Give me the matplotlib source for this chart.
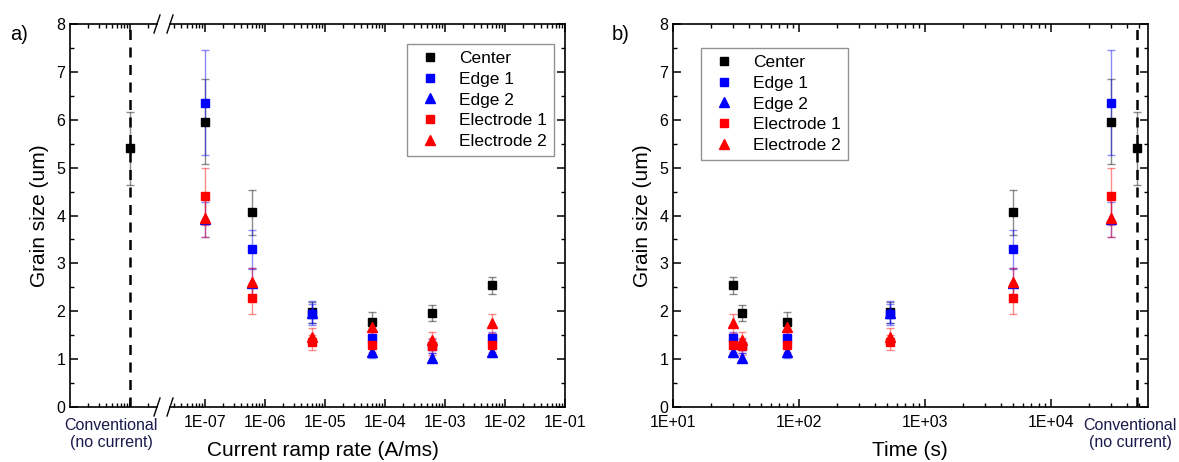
import matplotlib
matplotlib.use("Agg")
import matplotlib.pyplot as plt
from matplotlib.ticker import FixedLocator, LogLocator, NullFormatter, FixedFormatter, MultipleLocator
from matplotlib.lines import Line2D

plt.rcParams['font.family'] = ['Liberation Sans', 'DejaVu Sans']

# ---------------- data ----------------
ramp_rate = [1e-7, 6e-7, 6e-6, 6e-5, 6e-4, 6e-3]          # A/ms
time_s = [30000, 5000, 525, 80, 35, 30]                   # s
conv_rate_pos = 1.0        # position of "Conventional" on the short left axis segment
conv_time_pos = 4.8e4      # position of "Conventional" on the time axis
conv_center = [5.40]
conv_center_err = [0.76]

center = [5.96, 4.07, 1.98, 1.78, 1.97, 2.54]
center_err = [0.89, 0.47, 0.22, 0.20, 0.17, 0.17]
edge1 = [6.36, 3.29, 1.95, 1.45, 1.28, 1.45]
edge1_err = [1.09, 0.40, 0.20, 0.15, 0.15, 0.12]
edge2 = [3.92, 2.60, 1.97, 1.15, 1.03, 1.15]
edge2_err = [0.37, 0.30, 0.25, 0.13, 0.10, 0.10]
electrode1 = [4.40, 2.27, 1.35, 1.30, 1.27, 1.30]
electrode1_err = [0.60, 0.33, 0.15, 0.15, 0.18, 0.15]
electrode2 = [3.94, 2.62, 1.47, 1.68, 1.40, 1.75]
electrode2_err = [0.39, 0.28, 0.17, 0.15, 0.17, 0.20]

rate_ticks = [1e-7, 1e-6, 1e-5, 1e-4, 1e-3, 1e-2, 1e-1]
rate_ticklabels = ['1E-07', '1E-06', '1E-05', '1E-04', '1E-03', '1E-02', '1E-01']
time_ticks = [1e1, 1e2, 1e3, 1e4]
time_ticklabels = ['1E+01', '1E+02', '1E+03', '1E+04']

series = [
    ('Center', center, center_err, 's', '#000000'),
    ('Edge 1', edge1, edge1_err, 's', '#0000FF'),
    ('Edge 2', edge2, edge2_err, '^', '#0000FF'),
    ('Electrode 1', electrode1, electrode1_err, 's', '#FF0000'),
    ('Electrode 2', electrode2, electrode2_err, '^', '#FF0000'),
]

# ---------------- figure ----------------
W, H = 1179, 462
fig = plt.figure(figsize=(W / 100, H / 100), dpi=100)

def box(x0, x1, y0=24, y1=407):
    return [x0 / W, (H - y1) / H, (x1 - x0) / W, (y1 - y0) / H]

ax_a1 = fig.add_axes(box(70, 157))
ax_a2 = fig.add_axes(box(170, 565))
ax_b = fig.add_axes(box(673, 1148))

TICKFS = 11.5
LABFS = 15
LEGFS = 12.5

def style_axis(ax):
    for s in ax.spines.values():
        s.set_linewidth(1.2)
    ax.tick_params(which='major', direction='in', length=5.5, width=1.1,
                   labelsize=TICKFS, top=True, right=True)
    ax.tick_params(axis='x', which='major', pad=6)
    ax.tick_params(which='minor', direction='in', length=3, width=1.0,
                   top=True, right=True)
    ax.set_ylim(0, 8)
    ax.yaxis.set_major_locator(MultipleLocator(1))
    ax.yaxis.set_minor_locator(MultipleLocator(0.5))

def draw_series(ax, xs, ms_sq=5.3, ms_tri=7.2):
    for name, vals, errs, mk, col in series:
        ax.errorbar(xs, vals, yerr=errs, fmt='none', ecolor=col, elinewidth=1.0,
                    capsize=2.7, capthick=1.0, alpha=0.45, zorder=2)
        ax.plot(xs, vals, linestyle='none', marker=mk, color=col,
                markersize=(ms_sq if mk == 's' else ms_tri), zorder=3, label=name)

def draw_conv(ax, x):
    ax.axvline(x, color='black', linestyle=(0, (4, 3)), linewidth=1.8, zorder=1)
    ax.errorbar([x], conv_center, yerr=conv_center_err, fmt='none', ecolor='black',
                elinewidth=1.0, capsize=2.7, capthick=1.0, alpha=0.45, zorder=2)
    ax.plot([x], conv_center, linestyle='none', marker='s', color='black',
            markersize=5.3, zorder=3)

def make_legend(ax, x0, y0):
    leg = ax.legend(loc='upper left', bbox_to_anchor=(x0 / W, 1 - y0 / H),
                    bbox_transform=fig.transFigure, borderaxespad=0,
                    fontsize=LEGFS, frameon=True, fancybox=False, handletextpad=0.8,
                    handlelength=1.8, labelspacing=0.32, borderpad=0.4)
    leg.get_frame().set_edgecolor('#777777')
    leg.get_frame().set_linewidth(1.0)
    return leg

# ---- panel a, short segment ----
style_axis(ax_a1)
ax_a1.set_xscale('log')
ax_a1.set_xlim(10 ** -1.0, 10 ** 0.45)
ax_a1.xaxis.set_major_locator(FixedLocator([conv_rate_pos]))
ax_a1.xaxis.set_major_formatter(NullFormatter())
ax_a1.xaxis.set_minor_locator(LogLocator(base=10, subs=range(2, 10)))
ax_a1.xaxis.set_minor_formatter(NullFormatter())
ax_a1.spines['right'].set_visible(False)
ax_a1.tick_params(which='both', right=False)
draw_conv(ax_a1, conv_rate_pos)
ax_a1.set_ylabel('Grain size (um)', fontsize=LABFS, labelpad=5)

# ---- panel a, main segment ----
style_axis(ax_a2)
ax_a2.set_xscale('log')
ax_a2.set_xlim(10 ** -7.583, 1e-1)
ax_a2.xaxis.set_major_locator(FixedLocator(rate_ticks))
ax_a2.xaxis.set_major_formatter(FixedFormatter(rate_ticklabels))
ax_a2.xaxis.set_minor_locator(LogLocator(base=10, subs=range(2, 10)))
ax_a2.xaxis.set_minor_formatter(NullFormatter())
ax_a2.spines['left'].set_visible(False)
ax_a2.tick_params(which='both', left=False, labelleft=False)
draw_series(ax_a2, ramp_rate)
make_legend(ax_a2, 407, 44)

# break marks
for xb in (157, 170):
    for yb in (24, 407):
        fig.add_artist(Line2D([(xb - 3) / W, (xb + 3) / W],
                              [(H - yb - 9) / H, (H - yb + 9) / H],
                              color='black', linewidth=1.0))

fig.text(111 / W, 1 - 434 / H, 'Conventional\n(no current)', ha='center', va='center',
         fontsize=TICKFS, color='#1a1a4d', linespacing=1.1)
fig.text(323 / W, 1 - 451 / H, 'Current ramp rate (A/ms)', ha='center', va='center',
         fontsize=LABFS)
fig.text(10 / W, 1 - 35 / H, 'a)', ha='left', va='center', fontsize=14.5)

# ---- panel b ----
style_axis(ax_b)
ax_b.set_xscale('log')
ax_b.set_xlim(1e1, 10 ** 4.77)
ax_b.xaxis.set_major_locator(FixedLocator(time_ticks))
ax_b.xaxis.set_major_formatter(FixedFormatter(time_ticklabels))
ax_b.xaxis.set_minor_locator(LogLocator(base=10, subs=range(2, 10)))
ax_b.xaxis.set_minor_formatter(NullFormatter())
draw_conv(ax_b, conv_time_pos)
draw_series(ax_b, time_s)
ax_b.set_ylabel('Grain size (um)', fontsize=LABFS, labelpad=5)
make_legend(ax_b, 701, 48)
fig.text(910 / W, 1 - 451 / H, 'Time (s)', ha='center', va='center', fontsize=LABFS)
fig.text(1130 / W, 1 - 434 / H, 'Conventional\n(no current)', ha='center', va='center',
         fontsize=TICKFS, color='#1a1a4d', linespacing=1.1)
fig.text(612 / W, 1 - 35 / H, 'b)', ha='left', va='center', fontsize=14.5)

fig.savefig('out.png', dpi=100)
